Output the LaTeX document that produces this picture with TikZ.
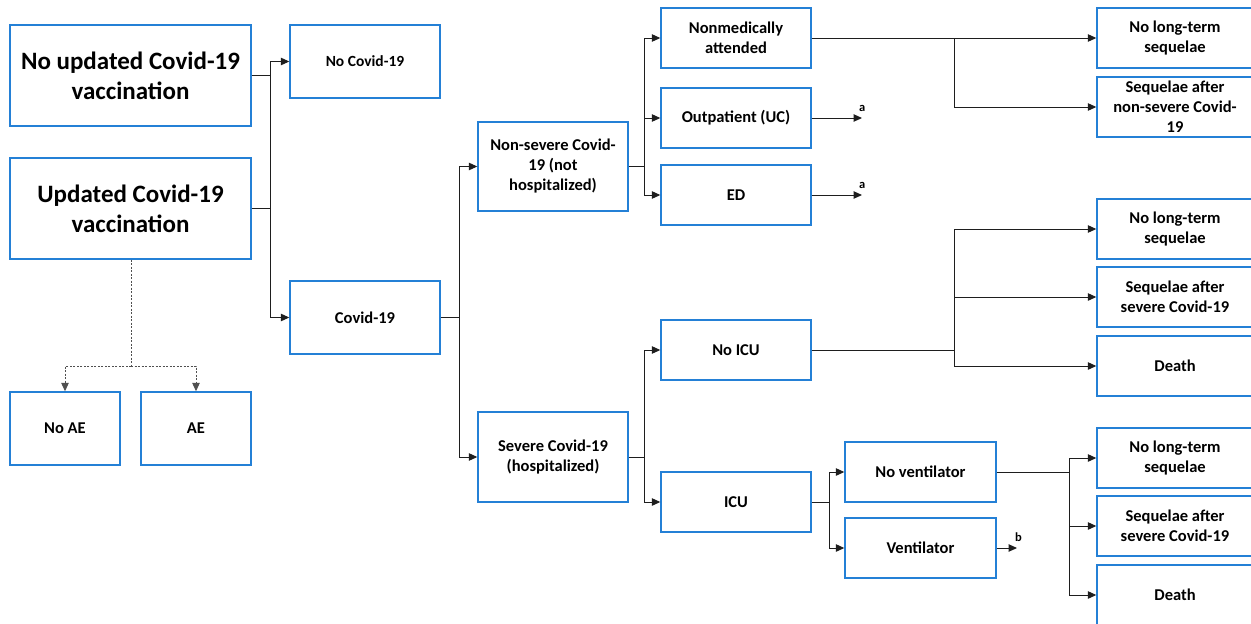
\documentclass[tikz,border=0pt]{standalone}
\usepackage{fontspec}
\setmainfont{Carlito}
\usetikzlibrary{arrows.meta}
\definecolor{boxblue}{RGB}{36,128,214}
\definecolor{linegray}{RGB}{30,30,30}
\definecolor{dashgray}{RGB}{80,80,80}
\tikzset{
  bx/.style={draw=boxblue, line width=1.4pt, fill=white, inner sep=0pt, align=center,
    font=\bfseries\fontsize{16.5}{20}\selectfont},
  bigbx/.style={bx, font=\bfseries\fontsize{25}{30}\selectfont},
  ln/.style={draw=linegray, line width=1pt},
  arr/.style={ln, -{Triangle[length=8.5pt,width=7.5pt]}},
  dsh/.style={draw=dashgray, line width=1pt, dash pattern=on 2pt off 1.5pt},
  dsharr/.style={dsh, -{Triangle[length=8.5pt,width=7.5pt]}},
  lab/.style={font=\bfseries\fontsize{12.5}{13}\selectfont, inner sep=0pt}
}
\newcommand{\bxat}[6]{% name, x1, y1, x2, y2, text
  \node[bx, minimum width=#4-#2, minimum height=#5-#3] (#1) at ({(#2+#4)/2},{(#3+#5)/2}) {#6};}
\begin{document}
\begin{tikzpicture}[x=1pt,y=-1pt]
\path[use as bounding box] (0,0) rectangle (1251,624);
\clip (0,0) rectangle (1251,624);
% left column
\node[bigbx, minimum width=241, minimum height=101] (nouv) at (130.5,75.5) {No updated Covid-19\\vaccination};
\node[bigbx, minimum width=241, minimum height=101] (upv) at (130.5,208.5) {Updated Covid-19\\vaccination};
\bxat{noae}{10}{392}{120}{465}{No AE}
\bxat{ae}{141}{392}{251}{465}{AE}
\node[bx, minimum width=150, minimum height=73, font=\bfseries\fontsize{15.5}{19}\selectfont] (nocov) at (365,61.5) {No Covid-19};
\bxat{cov}{290}{281}{440}{354}{Covid-19}
% second level
\bxat{nonsev}{478}{122}{628}{211}{Non-severe Covid-\\19 (not\\hospitalized)}
\bxat{sev}{478}{412}{628}{502}{Severe Covid-19\\(hospitalized)}
% third level
\bxat{nonmed}{661}{8}{811}{68}{Nonmedically\\attended}
\bxat{outp}{661}{88}{811}{148}{Outpatient (UC)}
\bxat{ed}{661}{165}{811}{225}{ED}
\bxat{noicu}{661}{320}{811}{380}{No ICU}
\bxat{icu}{661}{472}{811}{532}{ICU}
\bxat{novent}{845}{442}{996}{502}{No ventilator}
\bxat{vent}{845}{518}{996}{578}{Ventilator}
% right column
\bxat{r1}{1097}{8}{1253}{68}{No long-term\\sequelae}
\bxat{r2}{1097}{77}{1253}{137}{Sequelae after\\non-severe Covid-\\19}
\bxat{r3}{1097}{199}{1253}{259}{No long-term\\sequelae}
\bxat{r4}{1097}{267}{1253}{327}{Sequelae after\\severe Covid-19}
\bxat{r5}{1097}{336}{1253}{396}{Death}
\bxat{r6}{1097}{428}{1253}{488}{No long-term\\sequelae}
\bxat{r7}{1097}{496}{1253}{556}{Sequelae after\\severe Covid-19}
\bxat{r8}{1097}{565}{1253}{625}{Death}
% fork coordinates
\coordinate (f1) at (270,0);
\coordinate (f2) at (459,0);
\coordinate (f3) at (644,0);
\coordinate (f4) at (954,0);
\coordinate (f5) at (829,0);
\coordinate (f6) at (1069,0);
% vaccination -> covid
\draw[ln] (nouv.east) -- (nouv.east -| f1);
\draw[ln] (upv.east) -- (upv.east -| f1);
\draw[ln] (nouv.east -| f1) -- (upv.east -| f1);
\draw[arr] (nouv.east -| f1) |- (nocov.west);
\draw[arr] (upv.east -| f1) |- (cov.west);
% AE dashed
\coordinate (d1) at (131,366);
\draw[dsh] (upv.south -| d1) -- (d1);
\draw[dsharr] (d1) -| (noae.north);
\draw[dsharr] (d1) -| (ae.north);
% covid -> severity
\draw[arr] (cov.east) -- (cov.east -| f2) |- (nonsev.west);
\draw[arr] (cov.east -| f2) |- (sev.west);
% non-severe
\draw[arr] (nonsev.east) -- (nonsev.east -| f3) |- (nonmed.west);
\draw[arr] (nonsev.east -| f3) |- (outp.west);
\draw[arr] (nonsev.east -| f3) |- (ed.west);
% nonmedically
\draw[arr] (nonmed.east) -- (r1.west);
\draw[arr] (nonmed.east -| f4) |- (r2.west);
% a labels
\coordinate (ea1) at (862,118);
\coordinate (ea2) at (862,195);
\draw[arr] (outp.east) -- (ea1);
\draw[arr] (ed.east) -- (ea2);
\node[lab, anchor=south west] (la1) at (859,112) {a};
\node[lab, anchor=south west] (la2) at (859,189) {a};
% severe
\draw[arr] (sev.east) -- (sev.east -| f3) |- (noicu.west);
\draw[arr] (sev.east -| f3) |- (icu.west);
% no ICU
\draw[ln] (noicu.east) -- (noicu.east -| f4);
\draw[arr] (noicu.east -| f4) |- (r3.west);
\draw[arr] (noicu.east -| f4) |- (r4.west);
\draw[arr] (noicu.east -| f4) |- (r5.west);
% ICU
\draw[arr] (icu.east) -- (icu.east -| f5) |- (novent.west);
\draw[arr] (icu.east -| f5) |- (vent.west);
% no ventilator
\draw[ln] (novent.east) -- (novent.east -| f6);
\draw[arr] (novent.east -| f6) |- (r6.west);
\draw[arr] (novent.east -| f6) |- (r7.west);
\draw[arr] (novent.east -| f6) |- (r8.west);
% ventilator b
\coordinate (eb) at (1017,548);
\draw[arr] (vent.east) -- (eb);
\node[lab, anchor=south west] (lb) at (1015,542) {b};
\end{tikzpicture}
\end{document}
